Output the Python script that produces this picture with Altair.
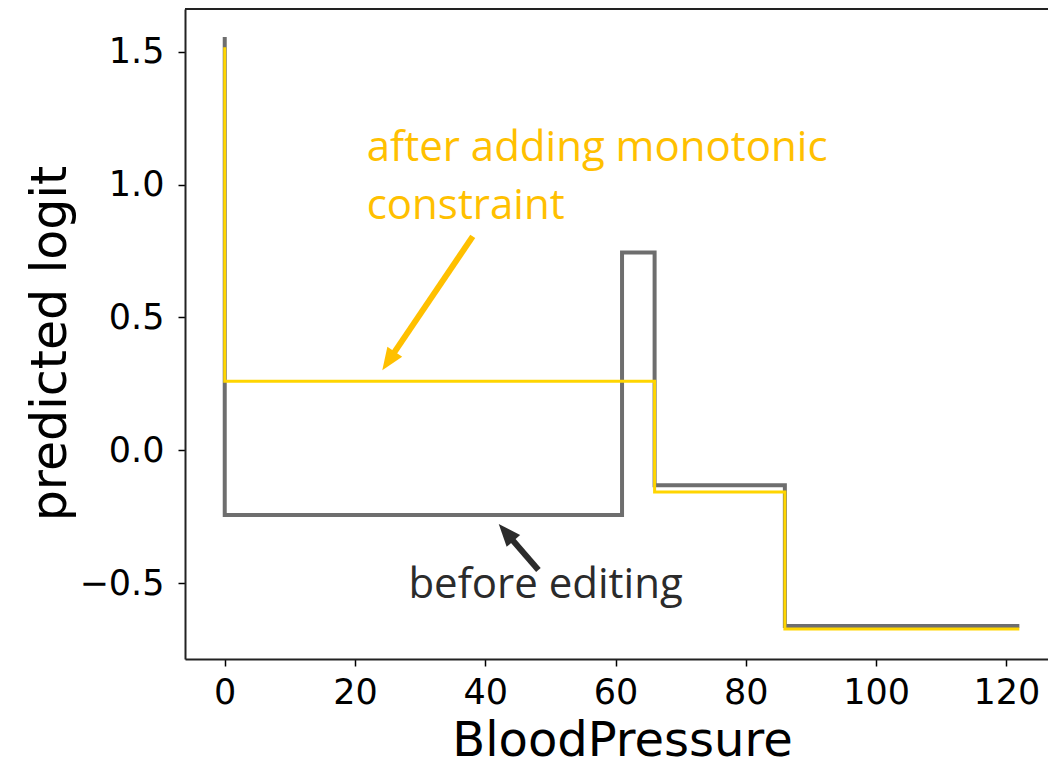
import altair as alt
import pandas as pd

# Shape function of BloodPressure, before and after the monotonic edit (step functions)
before_x = [0, 0, 61, 66, 86, 122]
before_y = [1.556, -0.244, 0.744, -0.132, -0.662, -0.662]

after_x = [0, 0, 66, 86, 122]
after_y = [1.517, 0.26, -0.157, -0.673, -0.673]

# Annotation text anchors (data units)
label_text = ["after adding monotonic", "constraint", "before editing"]
label_x = [21.8, 21.8, 28.2]
label_y = [1.09, 0.872, -0.556]
label_group = ["after", "after", "before"]

# Arrows: tail -> shaft end -> tip (data units)
arrow_group = ["after", "before"]
arrow_tail_x = [38.08, 48.16]
arrow_tail_y = [0.805, -0.451]
arrow_shaft_x = [25.2, 43.07]
arrow_shaft_y = [0.338, -0.307]
arrow_tip_x = [24.19, 42.07]
arrow_tip_y = [0.301, -0.278]
arrow_angle = [214, 319]

GRAY = "#6e6e6e"
YELLOW = "#FFD500"
GOLD = "#F2B800"
DARK = "#2b2b2b"

W, H = 863, 650
x_scale = alt.Scale(domain=[-6.1, 126.4], nice=False, zero=False)
y_scale = alt.Scale(domain=[-0.786, 1.661], nice=False, zero=False)

before = pd.DataFrame({"x": before_x, "y": before_y, "i": range(len(before_x))})
after = pd.DataFrame({"x": after_x, "y": after_y, "i": range(len(after_x))})
labels = pd.DataFrame({"text": label_text, "x": label_x, "y": label_y, "g": label_group})
arrows = pd.DataFrame({
    "g": arrow_group,
    "x": arrow_tail_x, "y": arrow_tail_y,
    "x2": arrow_shaft_x, "y2": arrow_shaft_y,
    "tx": arrow_tip_x, "ty": arrow_tip_y,
    "angle": arrow_angle,
})

x_axis = alt.Axis(
    values=[0, 20, 40, 60, 80, 100, 120], title="BloodPressure", grid=False,
    labelFont="DejaVu Sans", labelFontSize=35, labelColor="black", labelPadding=9,
    tickSize=7, tickColor="black", tickWidth=1.5,
    domainColor="#222", domainWidth=2,
    titleFont="DejaVu Sans", titleFontSize=48, titleFontWeight="normal", titleColor="black",
    titleX=437, titleY=96, titleBaseline="alphabetic", titleAlign="center",
)
y_axis = alt.Axis(
    values=[-0.5, 0.0, 0.5, 1.0, 1.5], format=".1f", title="predicted logit", grid=False,
    labelFont="DejaVu Sans", labelFontSize=35, labelColor="black", labelPadding=14,
    tickSize=7, tickColor="black", tickWidth=1.5,
    domainColor="#222", domainWidth=2,
    titleFont="DejaVu Sans", titleFontSize=49, titleFontWeight="normal", titleColor="black",
    titleX=-120, titleY=334, titleAngle=-90, titleBaseline="alphabetic", titleAlign="center",
)

gray_line = alt.Chart(before).mark_line(
    interpolate="step-after", color=GRAY, strokeWidth=4, strokeJoin="miter"
).encode(
    x=alt.X("x:Q", scale=x_scale, axis=x_axis),
    y=alt.Y("y:Q", scale=y_scale, axis=y_axis),
    order="i:Q",
)

yellow_line = alt.Chart(after).mark_line(
    interpolate="step-after", color=YELLOW, strokeWidth=3, strokeJoin="miter"
).encode(
    x=alt.X("x:Q", scale=x_scale),
    y=alt.Y("y:Q", scale=y_scale),
    order="i:Q",
)

text_color_scale = alt.Scale(domain=["after", "before"], range=[GOLD, "#000000"])
arrow_color_scale = alt.Scale(domain=["after", "before"], range=["#FFC000", DARK])

shafts = alt.Chart(arrows).mark_rule(strokeWidth=6, strokeCap="butt").encode(
    x=alt.X("x:Q", scale=x_scale), y=alt.Y("y:Q", scale=y_scale),
    x2="x2:Q", y2="y2:Q",
    color=alt.Color("g:N", scale=arrow_color_scale, legend=None),
)

heads = alt.Chart(arrows).mark_point(
    shape="M0,0L-0.8,2L0.8,2Z", filled=True, opacity=1, size=500, strokeWidth=0
).encode(
    x=alt.X("tx:Q", scale=x_scale), y=alt.Y("ty:Q", scale=y_scale),
    angle=alt.Angle("angle:Q", scale=None),
    color=alt.Color("g:N", scale=arrow_color_scale, legend=None),
)

texts = alt.Chart(labels).mark_text(
    font="Open Sans", fontSize=42, align="left", baseline="alphabetic"
).encode(
    x=alt.X("x:Q", scale=x_scale), y=alt.Y("y:Q", scale=y_scale),
    text="text:N",
    color=alt.Color("g:N", scale=text_color_scale, legend=None),
)

# top spine of the frame
top_spine = alt.Chart(before).mark_rule(color="#222", strokeWidth=2).encode(
    x=alt.value(0), x2=alt.value(W), y=alt.value(0)
)

chart = alt.layer(top_spine, gray_line, yellow_line, shafts, heads, texts).properties(
    width=W, height=H,
    autosize=alt.AutoSizeParams(type="none"),
    padding={"left": 185, "top": 9, "right": 0, "bottom": 106},
).configure_view(stroke=None).configure(background="white")

chart.save("out.html", embed_options={"renderer": "svg", "actions": False})
